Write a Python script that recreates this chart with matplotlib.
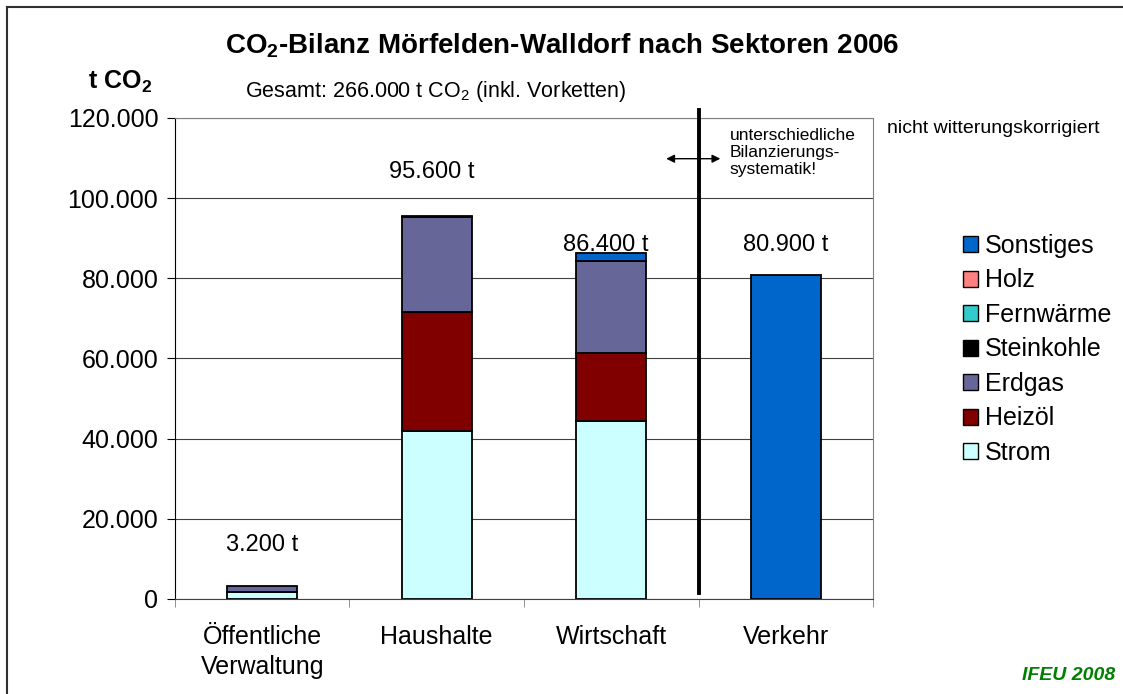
import numpy as np
import matplotlib.pyplot as plt
from matplotlib.patches import Patch
from matplotlib.lines import Line2D

plt.rcParams['font.family'] = ['Liberation Sans', 'DejaVu Sans']
plt.rcParams['mathtext.fontset'] = 'custom'
plt.rcParams['mathtext.rm'] = 'Liberation Sans'
plt.rcParams['mathtext.bf'] = 'Liberation Sans:bold'

# data (t CO2)
sectors = ['Öffentliche\nVerwaltung', 'Haushalte', 'Wirtschaft', 'Verkehr']
strom = [1700, 42000, 44300, 0]
heizoel = [0, 29500, 17000, 0]
erdgas = [1500, 23800, 23000, 0]
steinkohle = [0, 0, 0, 0]
fernwaerme = [0, 0, 0, 0]
holz = [0, 300, 0, 0]
sonstiges = [0, 0, 2100, 80900]
totals = ['3.200 t', '95.600 t', '86.400 t', '80.900 t']
yticks = [0, 20000, 40000, 60000, 80000, 100000, 120000]
ytick_labels = ['0', '20.000', '40.000', '60.000', '80.000', '100.000', '120.000']

series = [('Strom', strom, '#CCFFFF'),
          ('Heizöl', heizoel, '#800000'),
          ('Erdgas', erdgas, '#666699'),
          ('Steinkohle', steinkohle, '#000000'),
          ('Fernwärme', fernwaerme, '#33CCCC'),
          ('Holz', holz, '#FF8080'),
          ('Sonstiges', sonstiges, '#0066CC')]

fig = plt.figure(figsize=(11.23, 6.94), dpi=100)
ax = fig.add_axes([0.1558, 0.1369, 0.6216, 0.6931])

x = np.arange(len(sectors))
bottom = np.zeros(len(sectors))
for name, vals, col in series:
    vals = np.array(vals, dtype=float)
    mask = vals > 0
    ax.bar(x[mask], vals[mask], 0.4, bottom=bottom[mask], color=col,
           edgecolor='black', linewidth=1.3, zorder=3)
    bottom += vals

# value labels above the bars
label_y = [13400, 106600, 88400, 88400]
label_dx = [0, -0.03, -0.03, 0]
for i, txt in enumerate(totals):
    ax.text(x[i] + label_dx[i], label_y[i], txt, ha='center', va='center', fontsize=17)

ax.set_xlim(-0.5, 3.5)
ax.set_ylim(0, 120000)
ax.set_yticks(yticks)
ax.set_yticklabels(ytick_labels, fontsize=18)
ax.set_xticks(x)
ax.set_xticklabels(sectors, fontsize=18, linespacing=1.3)
ax.set_xticks([-0.5, 0.5, 1.5, 2.5, 3.5], minor=True)
ax.tick_params(axis='x', which='major', length=0, pad=19)
ax.tick_params(axis='x', which='minor', length=6, color='#808080', direction='out')
ax.tick_params(axis='y', length=6, direction='out', pad=6)
ax.grid(axis='y', color='#404040', linewidth=0.8, zorder=0)
for s in ['top', 'right']:
    ax.spines[s].set_color('#808080')
ax.spines['left'].set_color('black')
ax.spines['bottom'].set_color('#404040')

# separator line and arrow
ax.plot([2.5, 2.5], [1500, 122000], color='black', linewidth=2.8, clip_on=False, zorder=4)
ax.annotate('', xy=(2.315, 109840), xytext=(2.625, 109840),
            arrowprops=dict(arrowstyle='<|-|>', color='black', lw=1.0,
                            mutation_scale=12, shrinkA=0, shrinkB=0))
ax.text(2.68, 117600, 'unterschiedliche\nBilanzierungs-\nsystematik!', fontsize=12.5,
        ha='left', va='top', linespacing=1.2)

# legend
handles = [Patch(facecolor=col, edgecolor='black', linewidth=1.0, label=name)
           for name, vals, col in reversed(series)]
fig.legend(handles=handles, loc='upper left', bbox_to_anchor=(0.846, 0.681),
           frameon=False, fontsize=18, handlelength=0.6, handleheight=0.6,
           handletextpad=0.3, labelspacing=0.42, borderpad=0)

# texts
fig.text(0.501, 0.935, r'CO$_\mathbf{2}$-Bilanz Mörfelden-Walldorf nach Sektoren 2006',
         ha='center', va='center', fontsize=20, fontweight='bold')
fig.text(0.107, 0.882, r't CO$_\mathbf{2}$', ha='center', va='center', fontsize=18,
         fontweight='bold')
fig.text(0.218, 0.868, r'Gesamt: 266.000 t CO$_2$ (inkl. Vorketten)', ha='left',
         va='center', fontsize=15.5)
fig.text(0.79, 0.815, 'nicht witterungskorrigiert', ha='left', va='center', fontsize=14)
fig.text(0.993, 0.027, 'IFEU 2008', ha='right', va='center', fontsize=14,
         fontweight='bold', style='italic', color='#008000')

# frame around the figure (top and left visible)
fig.add_artist(Line2D([0.0066, 0.0066], [0, 0.99], color='#303030', linewidth=1.5,
                      transform=fig.transFigure))
fig.add_artist(Line2D([0.0066, 1], [0.99, 0.99], color='#303030', linewidth=1.5,
                      transform=fig.transFigure))

fig.savefig('out.png', dpi=100)
